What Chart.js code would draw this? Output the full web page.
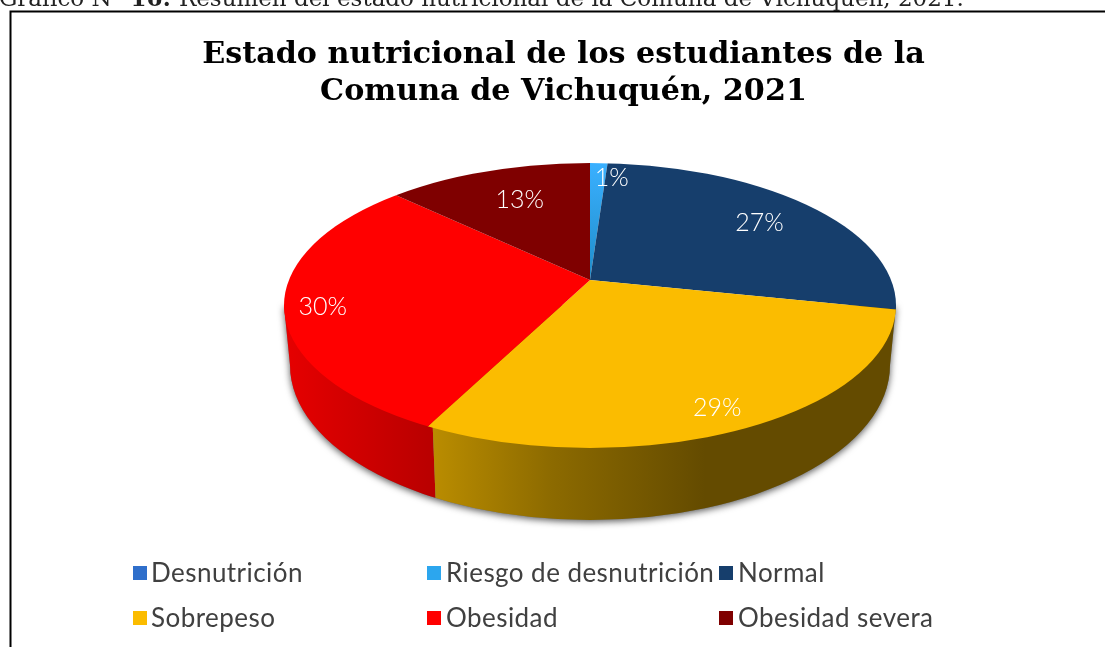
<!DOCTYPE html>
<html><head><meta charset="utf-8">
<style>html,body{margin:0;padding:0;background:#fff}canvas{display:block}</style>
<script src="https://cdn.jsdelivr.net/npm/chart.js@4"></script></head>
<body><canvas id="c" width="1105" height="647"></canvas>
<script>
const categories = ['Desnutrición','Riesgo de desnutrición','Normal','Sobrepeso','Obesidad','Obesidad severa'];
const values = [0, 1.1, 27.2, 29.2, 29.6, 12.9];
const colors = ['#2F6FCB','#2CA6EE','#163E6C','#FBBC00','#FF0000','#7F0000'];
const titleLines = ['Estado nutricional de los estudiantes de la','Comuna de Vichuquén, 2021'];

// projected geometry of the tilted pie
const G = {hx:590, hy:280, sx:396, sy:182,
  top:{cx:590, cy:305.5, rx:306, ry:142.5},
  bot:{cx:590, cy:365, rx:300, ry:155}};
// radial placement of the percentage labels: [fraction, dx, dy]
const LBL = [null,[.57,14,2],[.53,2,1],[.75,-1,5],[.685,0,6],[.47,3,-1]];

function rayX(theta){
  const dx=G.sx*Math.sin(theta), dy=-G.sy*Math.cos(theta), T=G.top;
  const ox=(G.hx-T.cx)/T.rx, oy=(G.hy-T.cy)/T.ry, ax=dx/T.rx, ay=dy/T.ry;
  const A=ax*ax+ay*ay, B=2*(ox*ax+oy*ay), C=ox*ox+oy*oy-1;
  const t=(-B+Math.sqrt(B*B-4*A*C))/(2*A);
  return G.hx+dx*t;
}
function hull(ctx){
  const T=G.top,B=G.bot;
  ctx.beginPath();
  ctx.moveTo(T.cx-T.rx,T.cy);
  ctx.lineTo(B.cx-B.rx,B.cy);
  ctx.ellipse(B.cx,B.cy,B.rx,B.ry,0,Math.PI,0,true);
  ctx.lineTo(T.cx+T.rx,T.cy);
  ctx.closePath();
}
const pie3d = {
  id:'pie3d',
  beforeDatasetsDraw(chart){
    const ctx=chart.ctx, arcs=chart.getDatasetMeta(0).data, a0=arcs[0];
    // wall
    ctx.save();
    ctx.shadowColor='rgba(0,0,0,.65)';ctx.shadowBlur=7;ctx.shadowOffsetX=0;ctx.shadowOffsetY=2;
    hull(ctx);ctx.fillStyle='#777';ctx.fill();
    ctx.restore();
    const xb=rayX(arcs[3].endAngle+Math.PI/2);
    const gy=ctx.createLinearGradient(xb,0,705,0);
    gy.addColorStop(0,'#BC8E00');gy.addColorStop(.45,'#8C6A00');gy.addColorStop(1,'#644B00');
    const gr=ctx.createLinearGradient(285,0,xb,0);
    gr.addColorStop(0,'#E60000');gr.addColorStop(1,'#BA0000');
    ctx.save();
    ctx.beginPath();ctx.moveTo(xb,300);ctx.lineTo(xb+9,530);ctx.lineTo(0,530);ctx.lineTo(0,300);ctx.closePath();ctx.clip();
    hull(ctx);ctx.fillStyle=gr;ctx.fill();
    ctx.restore();
    ctx.save();
    ctx.beginPath();ctx.moveTo(xb,300);ctx.lineTo(xb+9,530);ctx.lineTo(1105,530);ctx.lineTo(1105,300);ctx.closePath();ctx.clip();
    hull(ctx);ctx.fillStyle=gy;ctx.fill();
    ctx.restore();
    // top face: the library's arcs, projected and clipped to the rim
    ctx.save();
    const T=G.top;
    ctx.beginPath();ctx.ellipse(T.cx,T.cy,T.rx,T.ry,0,0,Math.PI*2);ctx.clip();
    const R=a0.outerRadius;
    ctx.translate(G.hx,G.hy);ctx.scale(G.sx/R,G.sy/R);ctx.translate(-a0.x,-a0.y);
  },
  afterDatasetsDraw(chart){
    const ctx=chart.ctx, arcs=chart.getDatasetMeta(0).data;
    ctx.restore();
    ctx.save();
    ctx.font='300 25px Lato';ctx.fillStyle='#fff';ctx.textAlign='center';ctx.textBaseline='middle';
    arcs.forEach((a,i)=>{
      const v=chart.data.datasets[0].data[i], L=LBL[i];
      if(!v||!L) return;
      const total=chart.data.datasets[0].data.reduce((s,x)=>s+x,0);
      const th=(a.startAngle+a.endAngle)/2+Math.PI/2;
      ctx.fillText(Math.round(v/total*100)+'%',
        G.hx+G.sx*Math.sin(th)*L[0]+L[1], G.hy-G.sy*Math.cos(th)*L[0]+L[2]);
    });
    ctx.restore();
  },
  afterDraw(chart){
    const ctx=chart.ctx;
    ctx.save();
    // frame
    ctx.strokeStyle='#000';ctx.lineWidth=2;
    ctx.beginPath();ctx.moveTo(10.5,647);ctx.lineTo(10.5,11.5);ctx.lineTo(1105,11.5);ctx.stroke();
    // caption cut by the page top
    ctx.fillStyle='#222';ctx.textBaseline='alphabetic';ctx.textAlign='left';
    let x=-1;
    ctx.font='23px "DejaVu Serif"';ctx.fillText('Gráfico N° ',x,6);x+=ctx.measureText('Gráfico N° ').width;
    ctx.font='bold 23px "DejaVu Serif"';ctx.fillText('16: ',x,6);x+=ctx.measureText('16: ').width;
    ctx.font='23px "DejaVu Serif"';ctx.fillText('Resumen del estado nutricional de la Comuna de Vichuquén, 2021.',x,6);
    // legend
    const boxX=[133,427,719], textX=[151,446,738], rowY=[573,618];
    chart.data.labels.forEach((lab,i)=>{
      const c=i%3, y=rowY[Math.floor(i/3)];
      ctx.fillStyle=chart.data.datasets[0].legendColors[i];
      ctx.fillRect(boxX[c],y-7,14,14);
      ctx.fillStyle='#404040';ctx.textBaseline='middle';ctx.textAlign='left';
      ctx.font='400 26px Lato';ctx.letterSpacing='0.45px';
      ctx.fillText(lab,textX[c],y+1);
      ctx.letterSpacing='0px';
    });
    ctx.restore();
  }
};
new Chart(document.getElementById('c'),{
  type:'pie',
  data:{labels:categories,datasets:[{
    data:values,
    legendColors:colors,
    clip:false,
    borderWidth:0,
    backgroundColor:(c)=>{
      const i=c.dataIndex, a=c.chart.chartArea;
      if(i!==1||!a) return colors[i];
      const cy=(a.top+a.bottom)/2, g=c.chart.ctx.createLinearGradient(0,cy-90,0,cy);
      g.addColorStop(0,'#3AB0FF');g.addColorStop(1,'#1F8CC8');
      return g;
    }
  }]},
  options:{
    responsive:false,animation:false,
    layout:{padding:{top:0,bottom:227,left:22,right:0}},
    plugins:{
      legend:{display:false},tooltip:{enabled:false},
      title:{display:true,text:titleLines,color:'#000',
        font:{family:'"DejaVu Serif"',weight:'bold',size:30.2,lineHeight:1.225},
        padding:{top:37,bottom:28}}
    }
  },
  plugins:[pie3d]
});
</script></body></html>
